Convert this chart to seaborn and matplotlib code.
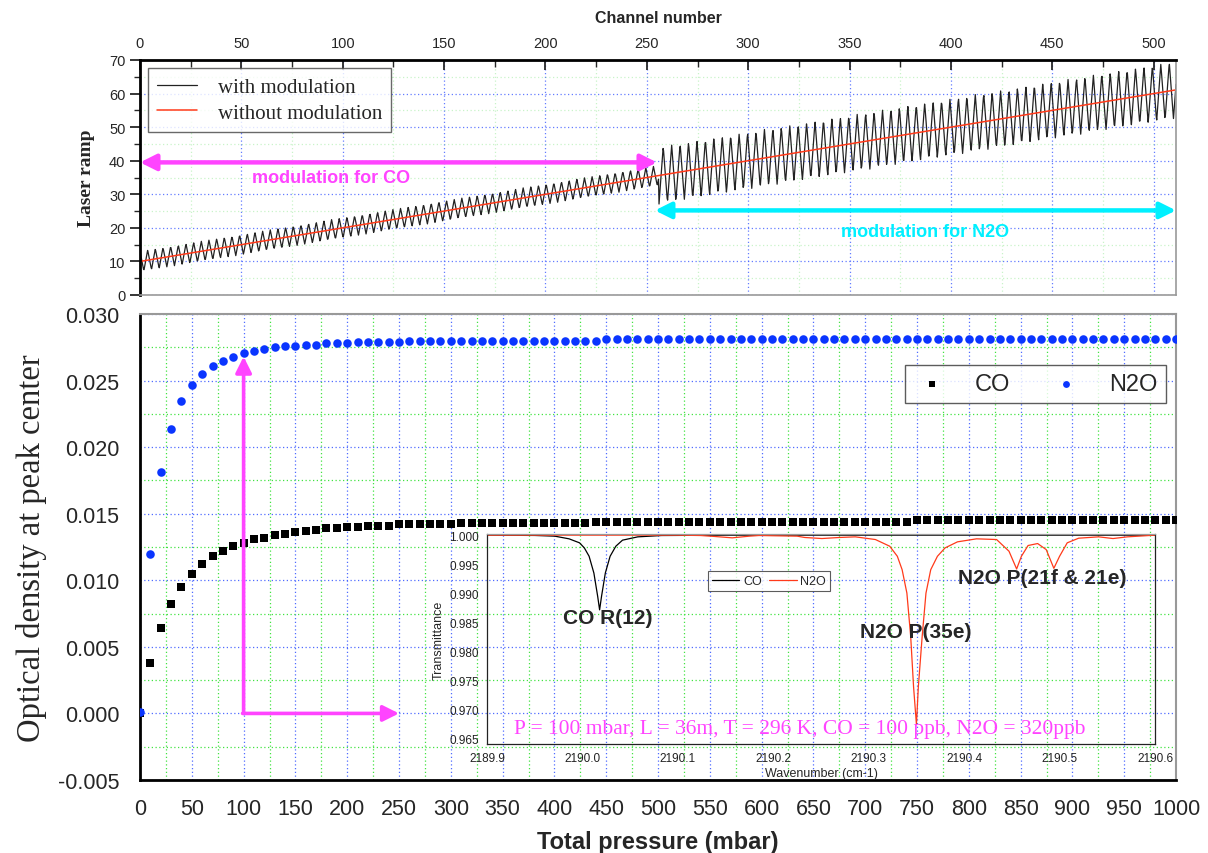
import numpy as np
import pandas as pd
import matplotlib
matplotlib.use("Agg")
import matplotlib.pyplot as plt
import seaborn as sns
from matplotlib.ticker import MultipleLocator, FormatStrFormatter

# ---------------- data ----------------
pressure_mbar = list(range(0, 1001, 10))
od_co = [0.0000, 0.0038, 0.0064, 0.0082, 0.0095, 0.0105, 0.0112, 0.0118, 0.0122, 0.0126,
         0.0128, 0.0131, 0.0132, 0.0134, 0.0135, 0.0136, 0.0137, 0.0138, 0.0139, 0.0139,
         0.0140, 0.0140, 0.0141, 0.0141, 0.0141, 0.0142, 0.0142, 0.0142, 0.0142, 0.0142,
         0.0142, 0.0143, 0.0143, 0.0143, 0.0143, 0.0143, 0.0143, 0.0143, 0.0143, 0.0143,
         0.0143, 0.0143, 0.0143, 0.0143, 0.0144, 0.0144, 0.0144, 0.0144, 0.0144, 0.0144,
         0.0144, 0.0144, 0.0144, 0.0144, 0.0144, 0.0144, 0.0144, 0.0144, 0.0144, 0.0144,
         0.0144, 0.0144, 0.0144, 0.0144, 0.0144, 0.0144, 0.0144, 0.0144, 0.0144, 0.0144,
         0.0144, 0.0144, 0.0144, 0.0144, 0.0144, 0.0145, 0.0145, 0.0145, 0.0145, 0.0145,
         0.0145, 0.0145, 0.0145, 0.0145, 0.0145, 0.0145, 0.0145, 0.0145, 0.0145, 0.0145,
         0.0145, 0.0145, 0.0145, 0.0145, 0.0145, 0.0145, 0.0145, 0.0145, 0.0145, 0.0145,
         0.0145]
od_n2o = [0.0001, 0.0120, 0.0181, 0.0214, 0.0235, 0.0247, 0.0255, 0.0261, 0.0265, 0.0268,
          0.0271, 0.0272, 0.0274, 0.0275, 0.0276, 0.0276, 0.0277, 0.0277, 0.0278, 0.0278,
          0.0278, 0.0279, 0.0279, 0.0279, 0.0279, 0.0279, 0.0280, 0.0280, 0.0280, 0.0280,
          0.0280, 0.0280, 0.0280, 0.0280, 0.0280, 0.0280, 0.0280, 0.0280, 0.0280, 0.0280,
          0.0280, 0.0280, 0.0280, 0.0280, 0.0280, 0.0281, 0.0281, 0.0281, 0.0281, 0.0281,
          0.0281, 0.0281, 0.0281, 0.0281, 0.0281, 0.0281, 0.0281, 0.0281, 0.0281, 0.0281,
          0.0281, 0.0281, 0.0281, 0.0281, 0.0281, 0.0281, 0.0281, 0.0281, 0.0281, 0.0281,
          0.0281, 0.0281, 0.0281, 0.0281, 0.0281, 0.0281, 0.0281, 0.0281, 0.0281, 0.0281,
          0.0281, 0.0281, 0.0281, 0.0281, 0.0281, 0.02815, 0.02815, 0.02815, 0.02815, 0.02815,
          0.02815, 0.02815, 0.02815, 0.02815, 0.02815, 0.02815, 0.02815, 0.02815, 0.02815, 0.02815,
          0.02815]

# laser ramp (channel axis)
n_channels = 512
ramp_start, ramp_end = 10.0, 61.1
split_channel = 256
mod_amp_co, mod_period_co = 3.0, 3.78
mod_amp_n2o, mod_period_n2o = 8.5, 4.16

# inset spectra
wn_co = [2189.900, 2189.950, 2189.971, 2189.986, 2189.997, 2190.002, 2190.007, 2190.012,
         2190.016, 2190.018, 2190.020, 2190.024, 2190.029, 2190.035, 2190.042, 2190.058,
         2190.083, 2190.150, 2190.300, 2190.450, 2190.600]
tr_co = [1.0000, 0.99995, 0.99983, 0.99937, 0.99868, 0.99781, 0.99637, 0.99349,
         0.98946, 0.98716, 0.98946, 0.99349, 0.99637, 0.99810, 0.99914, 0.99971,
         0.99994, 1.0000, 1.0000, 1.0000, 1.0000]
wn_n2o = [2189.900, 2190.100, 2190.124, 2190.139, 2190.157, 2190.175, 2190.185, 2190.225,
          2190.233, 2190.251, 2190.269, 2190.286, 2190.307, 2190.322, 2190.330, 2190.335,
          2190.340, 2190.344, 2190.347, 2190.350, 2190.352, 2190.356, 2190.360, 2190.365,
          2190.372, 2190.380, 2190.393, 2190.413, 2190.434, 2190.447, 2190.455, 2190.460,
          2190.467, 2190.477, 2190.486, 2190.494, 2190.500, 2190.508, 2190.520, 2190.541,
          2190.556, 2190.571, 2190.600]
tr_n2o = [1.0000, 1.0000, 0.99994, 0.99977, 0.99954, 0.99983, 0.99994, 0.99983,
          0.99960, 0.99942, 0.99960, 0.99971, 0.99925, 0.99810, 0.99637, 0.99407,
          0.99004, 0.98256, 0.97392, 0.96747, 0.97392, 0.98256, 0.99004, 0.99407,
          0.99637, 0.99781, 0.99885, 0.99937, 0.99925, 0.99724, 0.99419, 0.99637,
          0.99822, 0.99856, 0.99752, 0.99430, 0.99637, 0.99868, 0.99948, 0.99971,
          0.99942, 0.99971, 1.0000]

# ---------------- style ----------------
sns.set_style("white")
SANS = ["Liberation Sans", "DejaVu Sans"]
SERIF = ["Liberation Serif", "DejaVu Serif"]
plt.rcParams["font.family"] = SANS
MAG = "#ff44ff"
CYAN = "#00f0ff"
BLUE = "#0a35ff"
RED = "#ff3a1a"

fig = plt.figure(figsize=(12.08, 8.54), dpi=100)
L, R = 140 / 1208, 1176 / 1208
ax_top = fig.add_axes([L, 1 - 296 / 854, R - L, (296 - 61) / 854])
ax = fig.add_axes([L, 1 - 781 / 854, R - L, (781 - 315) / 854])
ax_in = fig.add_axes([487 / 1208, 1 - 745 / 854, (1155 - 487) / 1208, (745 - 535) / 854])


def grid(a, maj_alpha=0.9, min_alpha=0.9, mincol="#2ee02e"):
    a.grid(which="major", color="#3d5cff", linestyle=(0, (1, 2)), linewidth=0.9, alpha=maj_alpha)
    a.grid(which="minor", color=mincol, linestyle=(0, (1, 2)), linewidth=0.9, alpha=min_alpha)
    a.set_axisbelow(True)


# ---------------- top panel ----------------
ch = np.arange(0, n_channels - 1 + 0.25, 0.25)
base = ramp_start + (ramp_end - ramp_start) * ch / (n_channels - 1)
tri_co = (2 / np.pi) * np.arcsin(np.cos(2 * np.pi * ch / mod_period_co))
tri_n2o = (2 / np.pi) * np.arcsin(np.cos(2 * np.pi * (ch - split_channel) / mod_period_n2o
                                         + np.pi))
mod = np.where(ch < split_channel, mod_amp_co * tri_co, mod_amp_n2o * tri_n2o)
df_ramp = pd.DataFrame({"channel": ch, "with": base + mod})
df_lin = pd.DataFrame({"channel": [0, n_channels - 1], "without": [ramp_start, ramp_end]})

sns.lineplot(data=df_ramp, x="channel", y="with", ax=ax_top, color="#222222", lw=0.9,
             label="with modulation")
sns.lineplot(data=df_lin, x="channel", y="without", ax=ax_top, color=RED, lw=1.1,
             label="without modulation")
ax_top.set_xlim(0, n_channels - 1)
ax_top.set_ylim(0, 70)
ax_top.xaxis.set_major_locator(MultipleLocator(50))
ax_top.xaxis.set_minor_locator(MultipleLocator(25))
ax_top.yaxis.set_major_locator(MultipleLocator(10))
ax_top.yaxis.set_minor_locator(MultipleLocator(5))
grid(ax_top, 0.8, 0.35, "#66dd66")
ax_top.xaxis.tick_top()
ax_top.xaxis.set_label_position("top")
ax_top.tick_params(axis="x", which="both", direction="in", top=True, bottom=False,
                   labelsize=10.5, pad=7)
ax_top.tick_params(axis="x", which="major", length=7, width=1.3)
ax_top.tick_params(axis="x", which="minor", length=5, width=1.0)
ax_top.tick_params(axis="y", which="both", direction="out", left=True, labelsize=10.5)
ax_top.tick_params(axis="y", which="major", length=7, width=1.3)
ax_top.tick_params(axis="y", which="minor", length=4, width=1.0)
ax_top.set_xlabel("Channel number", fontsize=11.5, fontweight="bold", labelpad=10)
ax_top.set_ylabel("Laser ramp", fontsize=14, fontweight="bold", family=SERIF, labelpad=10)
for s in ["top", "left"]:
    ax_top.spines[s].set_color("black"); ax_top.spines[s].set_linewidth(2)
for s in ["bottom", "right"]:
    ax_top.spines[s].set_color("#999999"); ax_top.spines[s].set_linewidth(1.2)
leg = ax_top.legend(loc="upper left", bbox_to_anchor=(0.0075, 0.966), borderaxespad=0,
                    prop={"family": SERIF, "size": 15}, frameon=True, fancybox=False,
                    handlelength=1.9, borderpad=0.45, labelspacing=0.3, handletextpad=1.0)
leg.get_frame().set_edgecolor("#444444")
leg.get_frame().set_linewidth(1.0)

ax_top.annotate("", xy=(0, 39.5), xytext=(255, 39.5),
                arrowprops=dict(arrowstyle="<|-|>", color=MAG, lw=3.2, mutation_scale=24,
                                shrinkA=0, shrinkB=0))
ax_top.text(94, 35.0, "modulation for CO", color=MAG, fontsize=13, fontweight="bold",
            ha="center", va="center")
ax_top.annotate("", xy=(254, 25.2), xytext=(n_channels - 1, 25.2),
                arrowprops=dict(arrowstyle="<|-|>", color=CYAN, lw=3.2, mutation_scale=24,
                                shrinkA=0, shrinkB=0))
ax_top.text(387, 19.0, "modulation for N2O", color=CYAN, fontsize=13, fontweight="bold",
            ha="center", va="center")

# ---------------- main panel ----------------
df_od = pd.DataFrame({"P": pressure_mbar, "CO": od_co, "N2O": od_n2o})
sns.scatterplot(data=df_od, x="P", y="CO", ax=ax, marker="s", color="black", s=30,
                linewidth=0, label="CO", zorder=3)
sns.scatterplot(data=df_od, x="P", y="N2O", ax=ax, marker="o", color=BLUE, s=38,
                linewidth=0, label="N2O", zorder=3)
ax.set_xlim(0, 1000)
ax.set_ylim(-0.005, 0.030)
ax.xaxis.set_major_locator(MultipleLocator(50))
ax.xaxis.set_minor_locator(MultipleLocator(25))
ax.yaxis.set_major_locator(MultipleLocator(0.005))
ax.yaxis.set_minor_locator(MultipleLocator(0.0025))
ax.yaxis.set_major_formatter(FormatStrFormatter("%.3f"))
grid(ax, 0.9, 0.9)
ax.tick_params(which="both", direction="out", top=False, right=False, labelsize=15.5)
ax.tick_params(which="major", length=8, width=1.6, pad=5)
ax.tick_params(axis="y", which="major", pad=7)
ax.tick_params(which="minor", length=5, width=1.3)
ax.set_xlabel("Total pressure (mbar)", fontsize=17, fontweight="bold", labelpad=8)
ax.set_ylabel("Optical density at peak center", fontsize=23.5, family=SERIF, labelpad=8)
for s in ["bottom", "left"]:
    ax.spines[s].set_color("black"); ax.spines[s].set_linewidth(2)
for s in ["top", "right"]:
    ax.spines[s].set_color("#999999"); ax.spines[s].set_linewidth(1.5)
leg2 = ax.legend(loc="center", bbox_to_anchor=(0.864, 0.850), ncol=2, fontsize=17,
                 frameon=True, fancybox=False, markerscale=0.8, handletextpad=1.0,
                 columnspacing=1.6, borderpad=0.35, handlelength=1.6)
leg2.get_frame().set_edgecolor("#333333")
leg2.get_frame().set_linewidth(1.0)

ax.annotate("", xy=(100, 0.0268), xytext=(100, 0.0),
            arrowprops=dict(arrowstyle="-|>", color=MAG, lw=2.6, mutation_scale=24,
                            shrinkA=0, shrinkB=0), zorder=4)
ax.annotate("", xy=(250, 0.0), xytext=(99, 0.0),
            arrowprops=dict(arrowstyle="-|>", color=MAG, lw=2.6, mutation_scale=24,
                            shrinkA=0, shrinkB=0), zorder=4)

# ---------------- inset ----------------
df_co = pd.DataFrame({"wn": wn_co, "T": tr_co})
df_n2o = pd.DataFrame({"wn": wn_n2o, "T": tr_n2o})
ax_in.patch.set_alpha(0)
sns.lineplot(data=df_co, x="wn", y="T", ax=ax_in, color="black", lw=0.9, label="CO",
             sort=False)
sns.lineplot(data=df_n2o, x="wn", y="T", ax=ax_in, color=RED, lw=0.9, label="N2O",
             sort=False)
ax_in.set_xlim(2189.9, 2190.6)
ax_in.set_ylim(0.9641, 1.0002)
ax_in.xaxis.set_major_locator(MultipleLocator(0.1))
ax_in.xaxis.set_minor_locator(MultipleLocator(0.05))
ax_in.yaxis.set_major_locator(MultipleLocator(0.005))
ax_in.xaxis.set_major_formatter(FormatStrFormatter("%.1f"))
ax_in.yaxis.set_major_formatter(FormatStrFormatter("%.3f"))
ax_in.grid(False)
ax_in.tick_params(which="both", direction="out", top=False, right=False, labelsize=8.5,
                  labelcolor="#222222", width=0.8)
ax_in.tick_params(which="major", length=4, pad=2)
ax_in.tick_params(which="minor", length=2.5)
ax_in.set_xlabel("Wavenumber (cm-1)", fontsize=9, labelpad=2)
ax_in.set_ylabel("Transmittance", fontsize=9, labelpad=3)
for s in ["bottom", "left", "right"]:
    ax_in.spines[s].set_color("#222222"); ax_in.spines[s].set_linewidth(0.9)
ax_in.spines["top"].set_color("#999999"); ax_in.spines["top"].set_linewidth(0.9)
leg3 = ax_in.legend(loc="center", bbox_to_anchor=(0.422, 0.776), ncol=2, fontsize=9,
                    frameon=True, fancybox=False, handlelength=2.2, columnspacing=0.6,
                    handletextpad=0.3, borderpad=0.3)
leg3.get_frame().set_edgecolor("#333333")
leg3.get_frame().set_linewidth(0.8)
ax_in.text(2190.027, 0.9858, "CO R(12)", fontsize=15, fontweight="bold", ha="center",
           va="center")
ax_in.text(2190.349, 0.9834, "N2O P(35e)", fontsize=15, fontweight="bold", ha="center",
           va="center")
ax_in.text(2190.482, 0.99272, "N2O P(21f & 21e)", fontsize=15, fontweight="bold",
           ha="center", va="center")
ax_in.text(2190.228, 0.9667, "P = 100 mbar, L = 36m, T = 296 K, CO = 100 ppb, N2O = 320ppb",
           fontsize=15.5, family=SERIF, color=MAG, ha="center", va="center")

fig.savefig("out.png", dpi=100)
